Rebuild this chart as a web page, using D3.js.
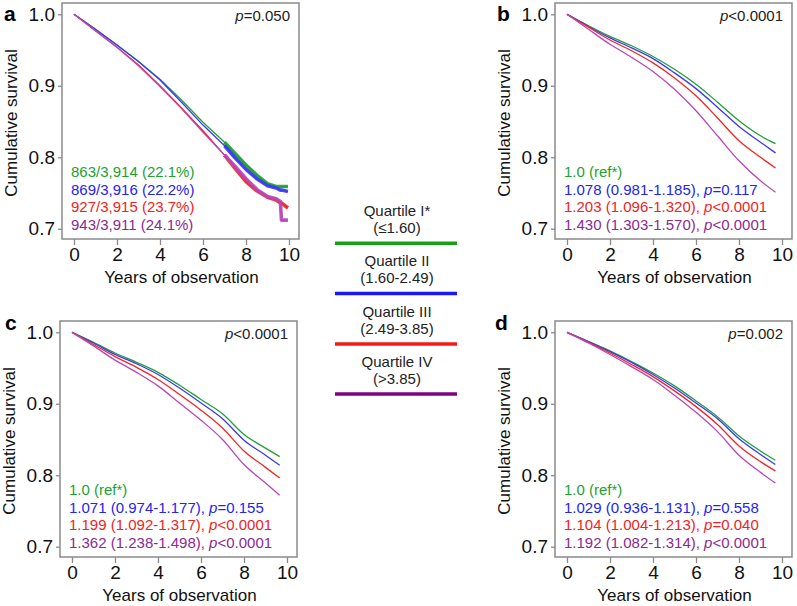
<!DOCTYPE html>
<html><head><meta charset="utf-8">
<script src="https://cdn.jsdelivr.net/npm/d3@7"></script>
<style>
body{margin:0;background:#fff}
svg{display:block}
text{font-family:"Liberation Sans",Arial,sans-serif}
</style>
</head><body>
<svg id="chart" width="797" height="606"></svg>
<script>
// ---------- data ----------
const panelLetters = ["a", "b", "c", "d"];
const yTicks = [0.7, 0.8, 0.9, 1.0];
const xTicks = [0, 2, 4, 6, 8, 10];
const quartileNames = ["Quartile I*", "Quartile II", "Quartile III", "Quartile IV"];
const quartileRanges = ["(\u22641.60)", "(1.60-2.49)", "(2.49-3.85)", "(>3.85)"];
const pOverall = ["=0.050", "<0.0001", "<0.0001", "=0.002"];

// panel a: crude Kaplan-Meier
const timesA = [0, 1, 2, 3, 4, 5, 6, 7, 7.5, 8, 8.5, 9, 9.4, 9.6, 9.65, 9.95];
const survA_Q1 = [1, 0.979, 0.957, 0.934, 0.909, 0.880, 0.849, 0.821, 0.805, 0.789, 0.775, 0.763, 0.759, 0.759, 0.759, 0.759];
const survA_Q2 = [1, 0.979, 0.957, 0.934, 0.908, 0.877, 0.845, 0.816, 0.799, 0.783, 0.770, 0.760, 0.757, 0.754, 0.754, 0.752];
const survA_Q3 = [1, 0.977, 0.954, 0.929, 0.900, 0.869, 0.837, 0.803, 0.784, 0.766, 0.753, 0.744, 0.740, 0.736, 0.736, 0.729];
const survA_Q4 = [1, 0.977, 0.954, 0.928, 0.899, 0.868, 0.835, 0.803, 0.787, 0.770, 0.755, 0.745, 0.742, 0.738, 0.712, 0.712];
const annotA = ["863/3,914 (22.1%)", "869/3,916 (22.2%)", "927/3,915 (23.7%)", "943/3,911 (24.1%)"];

// panel b
const timesB = [0, 1, 2, 3, 4, 5, 6, 7, 8, 9, 9.7];
const survB_Q1 = [1, 0.984, 0.969, 0.956, 0.941, 0.923, 0.902, 0.877, 0.851, 0.830, 0.819];
const survB_Q2 = [1, 0.983, 0.967, 0.953, 0.938, 0.918, 0.896, 0.870, 0.843, 0.821, 0.806];
const survB_Q3 = [1, 0.982, 0.964, 0.949, 0.932, 0.911, 0.886, 0.855, 0.823, 0.800, 0.785];
const survB_Q4 = [1, 0.979, 0.958, 0.940, 0.920, 0.895, 0.865, 0.830, 0.795, 0.767, 0.751];
const hrB = ["1.0 (ref*)", "1.078 (0.981-1.185), ", "1.203 (1.096-1.320), ", "1.430 (1.303-1.570), "];
const hrB_p = ["", "=0.117", "<0.0001", "<0.0001"];

// panel c
const timesC = [0, 1, 2, 3, 4, 5, 6, 7, 8, 9, 9.66];
const survC_Q1 = [1, 0.986, 0.971, 0.958, 0.944, 0.926, 0.906, 0.886, 0.857, 0.838, 0.826];
const survC_Q2 = [1, 0.985, 0.969, 0.956, 0.941, 0.922, 0.901, 0.879, 0.849, 0.828, 0.814];
const survC_Q3 = [1, 0.983, 0.966, 0.951, 0.934, 0.913, 0.891, 0.866, 0.834, 0.811, 0.796];
const survC_Q4 = [1, 0.981, 0.961, 0.944, 0.925, 0.901, 0.877, 0.850, 0.815, 0.789, 0.772];
const hrC = ["1.0 (ref*)", "1.071 (0.974-1.177), ", "1.199 (1.092-1.317), ", "1.362 (1.238-1.498), "];
const hrC_p = ["", "=0.155", "<0.0001", "<0.0001"];

// panel d
const timesD = [0, 1, 2, 3, 4, 5, 6, 7, 8, 9, 9.69];
const survD_Q1 = [1, 0.987, 0.974, 0.959, 0.943, 0.925, 0.904, 0.882, 0.855, 0.834, 0.821];
const survD_Q2 = [1, 0.987, 0.973, 0.958, 0.941, 0.922, 0.901, 0.879, 0.851, 0.829, 0.815];
const survD_Q3 = [1, 0.986, 0.971, 0.955, 0.938, 0.918, 0.896, 0.871, 0.841, 0.819, 0.806];
const survD_Q4 = [1, 0.985, 0.969, 0.952, 0.934, 0.912, 0.888, 0.861, 0.828, 0.804, 0.789];
const hrD = ["1.0 (ref*)", "1.029 (0.936-1.131), ", "1.104 (1.004-1.213), ", "1.192 (1.082-1.314), "];
const hrD_p = ["", "=0.558", "=0.040", "<0.0001"];

// ---------- styles / layout ----------
const textColors = ["#22a12f", "#2424f0", "#f22222", "#8b2a92"];
const curveColors = ["#23a035", "#3a3af2", "#f42525", "#b847b8"];
const legendColors = ["#16a016", "#1a1af0", "#f51a1a", "#800080"];
const layout = [
  {dx: 0,   dy: 0,   lx: 4, ly: 21},
  {dx: 493, dy: 0,   lx: 4, ly: 21},
  {dx: -2,  dy: 318, lx: 7, ly: 12},
  {dx: 493, dy: 318, lx: 2, ly: 12}
];

const panels = [
  {times: timesA, surv: [survA_Q1, survA_Q2, survA_Q3, survA_Q4], lines: annotA, pv: null, tail: true},
  {times: timesB, surv: [survB_Q1, survB_Q2, survB_Q3, survB_Q4], lines: hrB, pv: hrB_p},
  {times: timesC, surv: [survC_Q1, survC_Q2, survC_Q3, survC_Q4], lines: hrC, pv: hrC_p},
  {times: timesD, surv: [survD_Q1, survD_Q2, survD_Q3, survD_Q4], lines: hrD, pv: hrD_p}
];

const svg = d3.select("#chart");
svg.append("rect").attr("width", 797).attr("height", 606).attr("fill", "#fff");

const boxColor = "#8a8a8a";

panels.forEach((p, k) => {
  const L = layout[k];
  const g = svg.append("g").attr("transform", `translate(${L.dx},${L.dy})`);
  const x = d3.scaleLinear().domain([0, 10]).range([74, 289]);
  const y = d3.scaleLinear().domain([0.7, 1.0]).range([228.7, 14.3]);

  // curves
  const line = d3.line().x(d => x(d[0])).y(d => y(d[1]))
    .curve(p.tail ? d3.curveLinear : d3.curveMonotoneX);
  p.surv.forEach((vals, i) => {
    const pts = p.times.map((t, j) => [t, vals[j]]);
    g.append("path").attr("d", line(pts)).attr("fill", "none")
      .attr("stroke", curveColors[i]).attr("stroke-width", 1.3)
      .attr("stroke-linejoin", "round");
    if (p.tail) {
      const tail = pts.filter(d => d[0] >= 7);
      g.append("path").attr("d", line(tail)).attr("fill", "none")
        .attr("stroke", curveColors[i]).attr("stroke-width", 3.6)
        .attr("stroke-linejoin", "round").attr("opacity", 0.9);
    }
  });

  // box
  g.append("rect").attr("x", 62).attr("y", 3).attr("width", 237).attr("height", 236)
    .attr("fill", "none").attr("stroke", boxColor).attr("stroke-width", 1.5);

  // axes
  const ya = g.append("g").attr("transform", "translate(62,0)")
    .call(d3.axisLeft(y).tickValues(yTicks).tickFormat(d3.format(".1f")).tickSize(4).tickPadding(3));
  const xa = g.append("g").attr("transform", "translate(0,239)")
    .call(d3.axisBottom(x).tickValues(xTicks).tickSize(6).tickPadding(3));
  [ya, xa].forEach(a => {
    a.select(".domain").remove();
    a.selectAll(".tick line").attr("stroke", boxColor).attr("stroke-width", 1.3);
    a.selectAll(".tick text").attr("fill", "#111").style("font-size", "19px")
      .style("font-family", "'Liberation Sans',Arial,sans-serif");
  });

  // axis titles
  g.append("text").attr("x", 181.5).attr("y", 283).attr("text-anchor", "middle")
    .attr("fill", "#111").style("font-size", "17px").text("Years of observation");
  g.append("text").attr("transform", "translate(17,123) rotate(-90)").attr("text-anchor", "middle")
    .attr("fill", "#111").style("font-size", "17px").text("Cumulative survival");

  // panel letter
  g.append("text").attr("x", L.lx).attr("y", L.ly).attr("fill", "#000")
    .style("font-size", "21px").style("font-weight", "bold").text(panelLetters[k]);

  // overall p-value
  const pt = g.append("text").attr("x", 290).attr("y", 21).attr("text-anchor", "end")
    .attr("fill", "#222").style("font-size", "15px");
  pt.append("tspan").style("font-style", "italic").text("p");
  pt.append("tspan").text(pOverall[k]);

  // annotations
  p.lines.forEach((s, i) => {
    const t = g.append("text").attr("x", 71).attr("y", 177 + i * 17.6)
      .attr("fill", textColors[i]).style("font-size", "15px");
    t.append("tspan").text(s);
    if (p.pv && p.pv[i]) {
      t.append("tspan").style("font-style", "italic").text("p");
      t.append("tspan").text(p.pv[i]);
    }
  });
});

// legend
const lg = svg.append("g");
const legendLineY = [243.3, 293.5, 344, 394];
quartileNames.forEach((nm, i) => {
  const ly = legendLineY[i];
  lg.append("text").attr("x", 397).attr("y", ly - 27.5).attr("text-anchor", "middle")
    .attr("fill", "#222").style("font-size", "15px").text(nm);
  lg.append("text").attr("x", 397).attr("y", ly - 10.5).attr("text-anchor", "middle")
    .attr("fill", "#222").style("font-size", "15px").text(quartileRanges[i]);
  lg.append("line").attr("x1", 335).attr("x2", 457).attr("y1", ly).attr("y2", ly)
    .attr("stroke", legendColors[i]).attr("stroke-width", 3.6);
});
</script>
</body></html>
